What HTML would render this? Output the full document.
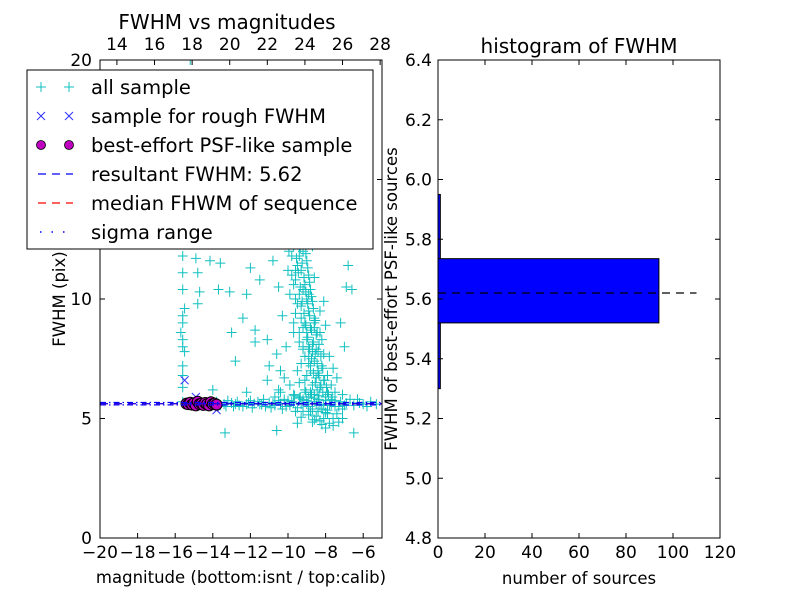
<!DOCTYPE html>
<html><head><meta charset="utf-8"><style>
body{margin:0;background:#fff}
svg{font-family:"DejaVu Sans","Liberation Sans",sans-serif}
</style></head><body>
<svg id="c" width="800" height="600" xmlns="http://www.w3.org/2000/svg"></svg>
<script>
const allSample=[[-14.15,11.6],[-13.6,11.5],[-15.6,11.1],[-14.8,11.1],[-15.6,10.4],[-14.7,10.3],[-13.1,10.3],[-14.8,9.8],[-15.6,9.3],[-15.6,9.0],[-13.0,8.6],[-15.6,8.3],[-15.6,8.0],[-15.6,7.2],[-15.6,6.3],[-12.2,10.2],[-11.75,8.7],[-11.75,8.2],[-11.1,8.3],[-10.6,7.7],[-11.0,7.2],[-11.1,6.6],[-10.5,6.2],[-12.2,6.1],[-7.6,7.1],[-7.4,6.7],[-7.1,6.0],[-6.3,5.8],[-6.8,11.4],[-6.9,10.5],[-8.1,9.9],[-13.35,4.4],[-10.6,4.5],[-9.5,4.8],[-7.1,5.0],[-6.5,4.4],
[-9.9,14.8],[-9.6,14.5],[-9.3,14.2],[-10.2,13.9],[-9.8,13.6],[-9.5,13.3],[-9.1,13.0],[-9.7,12.8],[-10.0,12.5],[-9.4,12.2],[-9.2,12.0],[-9.8,11.8],[-9.0,11.6],[-9.5,11.4],[-9.3,11.2],[-8.9,11.0],[-9.6,10.8],[-9.1,10.6],[-8.8,10.4],[-9.4,10.2],[-9.0,10.0],[-8.7,9.9],[-9.3,9.7],[-8.9,9.5],[-9.6,9.4],[-8.6,9.2],[-9.1,9.0],[-8.8,8.8],[-9.4,8.6],[-8.5,8.5],[-9.0,8.3],[-8.7,8.1],[-9.2,7.9],[-8.4,7.8],[-8.9,7.6],[-8.6,7.4],[-9.3,7.3],[-8.2,7.2],[-8.8,7.0],[-9.0,6.8],[-8.5,6.7],[-8.1,6.6],[-9.4,6.5],[-8.7,6.4],[-8.3,6.3],[-9.1,6.2],[-7.9,6.1],[-8.6,6.0],[-9.7,6.0],[-8.0,5.9],[-8.9,5.9],[-7.7,5.8],[-8.4,5.8],[-9.2,5.8],[-10.0,5.75],[-7.5,5.5],[-8.2,5.4],[-8.8,5.3],[-7.9,5.2],[-8.5,5.1],[-7.6,5.0],[-8.3,4.9],[-7.8,4.8],[-8.0,4.6],[-9.6,5.3],[-10.3,5.4],[-9.9,6.4],[-10.4,7.0],[-10.1,8.0],[-10.3,9.3],[-10.5,10.5],[-10.0,11.2],[-9.2,8.0],[-8.9,7.3],[-8.6,8.8],[-9.5,7.0],[-8.8,6.1],[-9.0,5.6],[-8.4,6.9],[-9.7,8.6],[-10.8,11.6],[-10.6,12.8],[-11.2,12.4],[-9.4,15.5],[-9.8,16.2],[-9.2,17.0],[-10.5,14.4],[-11.0,13.5],[-9.0,14.9],
[-13.4,5.6],[-13.0,5.65],[-12.6,5.55],[-12.2,5.6],[-11.8,5.62],[-11.4,5.58],[-11.0,5.66],[-10.7,5.55],[-10.4,5.62],[-10.1,5.5],[-9.8,5.7],[-9.5,5.45],[-9.2,5.65],[-8.9,5.5],[-8.6,5.7],[-8.3,5.55],[-8.0,5.75],[-7.7,5.6],[-7.3,5.5],[-6.9,5.65],[-6.5,5.55],[-6.0,5.6],[-5.6,5.7],[-5.3,5.6],[-12.9,5.5],[-11.6,5.7],[-10.9,5.45],[-10.2,5.8],[-9.4,5.85],[-8.7,5.4],[-7.9,5.35],[-7.1,5.4],[-6.7,5.8],[-15.2,5.6],[-15.6,5.7],[-14.2,5.5],[-13.8,5.7],
[-15.2,20],[-15.6,6.8],[-15.5,7.8],[-15.7,8.6],[-15.5,9.6],[-15.6,11.8],[-14.9,11.7],[-13.7,10.4],[-12.4,9.2],[-11.5,10.8],[-12.0,11.3],[-14.0,6.2],[-12.8,7.4],[-6.6,10.4],[-7.2,9.0],[-7.0,8.0]];
const denseColumn=[[-9.85,14.1],[-9.55,13.8],[-9.25,13.5],[-9.75,13.2],[-9.45,12.9],[-9.15,12.6],[-9.65,12.4],[-9.35,12.1],[-9.05,11.9],[-9.55,11.7],[-9.25,11.5],[-8.95,11.3],[-9.45,11.1],[-9.15,10.9],[-8.85,10.7],[-9.35,10.5],[-9.05,10.3],[-8.75,10.1],[-9.25,9.9],[-8.95,9.8],[-8.65,9.6],[-9.15,9.4],[-8.85,9.3],[-8.55,9.1],[-9.05,8.9],[-8.75,8.7],[-8.45,8.6],[-8.95,8.4],[-8.65,8.2],[-8.35,8.1],[-8.85,7.9],[-8.55,7.7],[-8.25,7.6],[-8.75,7.5],[-8.45,7.3],[-8.15,7.1],[-8.65,6.9],[-8.35,6.8],[-8.05,6.6],[-8.55,6.5],[-8.25,6.4],[-7.95,6.3],[-8.45,6.2],[-8.15,6.1],[-7.85,6.0],[-8.75,6.0],[-9.05,6.1],[-9.35,5.9],[-9.65,5.95],[-7.65,5.9],[-8.35,5.95],[-8.6,5.85],[-9.8,11.0],[-9.6,10.0],[-9.3,9.2],[-9.0,8.6],[-8.7,7.8],[-8.4,7.0],[-9.1,7.6],[-9.4,8.2],[-9.7,9.0],[-9.9,10.2],[-9.95,12.0],[-10.15,13.0],[-9.9,13.0],[-9.0,12.4],[-9.6,11.2],[-8.9,10.2],[-8.6,9.0],[-8.3,8.6],[-8.1,7.7],[-7.9,6.8],[-7.7,6.4],[-7.5,6.1],[-7.8,5.55],[-7.4,5.2],[-8.1,5.0],[-8.6,4.95],[-8.9,5.15],[-9.2,5.3],[-8.4,5.3],[-8.0,5.25],[-7.6,4.7],[-7.3,4.85],[-8.2,4.75],[-8.7,4.85],[-9.3,5.05],[-7.2,5.7],[-9.1,6.6],[-8.8,7.2],[-8.5,7.9],[-8.2,8.3],[-8.9,8.0],[-9.2,8.8],[-9.5,9.8],[-9.2,10.4],[-9.7,10.6],[-9.4,11.8],[-9.7,12.2],[-9.3,12.7],[-9.6,13.5],[-10.0,13.4],[-9.4,14.6],[-9.7,15.0],[-10.1,14.9],[-9.5,16.0],[-9.1,15.6],[-9.9,15.6],[-9.3,16.5],[-8.9,13.6],[-8.7,12.2],[-8.6,10.9],[-8.3,9.5],[-8.0,8.9],[-7.8,7.6],[-10.4,6.1],[-10.2,6.7],[-10.7,5.9],[-11.3,5.8],[-12.0,5.75],[-12.7,5.7],[-13.2,5.75],[-13.6,5.55],[-12.4,5.5],[-11.9,5.45],[-11.2,5.5],[-10.5,5.75],[-9.9,5.55],[-9.7,5.65],[-9.3,5.6],[-9.0,5.75],[-8.5,5.6],[-8.1,5.6],[-7.5,5.75],[-7.0,5.55],[-6.2,5.65],[-5.8,5.5],[-10.8,5.65],[-11.5,5.6],[-12.1,5.65],[-12.8,5.6],[-13.3,5.5]];
const roughSample=[[-15.5,6.6],[-14.9,5.9],[-14.6,5.7],[-13.9,5.5],[-13.8,5.35],[-15.2,5.7],[-14.2,5.6]];
const bestMag=[-15.4,-15.3,-15.2,-15.1,-15.0,-14.9,-14.8,-14.7,-14.6,-14.5,-14.4,-14.3,-14.2,-14.1,-14.0,-13.9,-13.8];
const bestFwhm=[5.62,5.6,5.66,5.58,5.64,5.55,5.7,5.6,5.62,5.57,5.65,5.6,5.55,5.68,5.6,5.62,5.58];
const resultFwhm=5.62, medianFwhm=5.62, sigmaLo=5.57, sigmaHi=5.67;
const binEdges=[5.30,5.52,5.735,5.95];
const binCounts=[1,94,1];
const leftXTicks=[-20,-18,-16,-14,-12,-10,-8,-6];
const leftYTicks=[0,5,10,15,20];
const topTicks=[14,16,18,20,22,24,26,28];
const rightXTicks=[0,20,40,60,80,100,120];
const rightYTicks=[4.8,5.0,5.2,5.4,5.6,5.8,6.0,6.2,6.4];
const calibOffset=33.1;

const S=document.getElementById('c');const NS='http://www.w3.org/2000/svg';
function mk(t,a,p){const e=document.createElementNS(NS,t);for(const k in a)e.setAttribute(k,a[k]);(p||S).appendChild(e);return e;}
const L={x0:100,x1:382,y0:60,y1:538},R={x0:438,x1:720,y0:60,y1:538};
const lx=v=>L.x0+(v+20)/15*(L.x1-L.x0), ly=v=>L.y1-v/20*(L.y1-L.y0);
const rx=v=>R.x0+v/120*(R.x1-R.x0), ry=v=>R.y1-(v-4.8)/1.6*(R.y1-R.y0);
function txt(x,y,s,a,name){const e=mk('text',Object.assign({x:x,y:y,'font-size':17,fill:'#000'},a||{}));e.textContent=s;return e;}
const defs=mk('defs',{});const cp=mk('clipPath',{id:'lc'},defs);mk('rect',{x:L.x0,y:L.y0,width:L.x1-L.x0,height:L.y1-L.y0},cp);
const gL=mk('g',{'clip-path':'url(#lc)'});

function plus(g,x,y,c){return mk('path',{d:`M${x-5},${y}h10M${x},${y-5}v10`,stroke:c,'stroke-width':1,fill:'none'},g);}
function cross(g,x,y,c){return mk('path',{d:`M${x-4},${y-4}l8,8M${x-4},${y+4}l8,-8`,stroke:c,'stroke-width':1,fill:'none'},g);}
allSample.concat(denseColumn).forEach(p=>{const e=plus(gL,lx(p[0]),ly(p[1]),'#10c0c0');

});
roughSample.forEach(p=>{const e=cross(gL,lx(p[0]),ly(p[1]),'#3030ff');

});
bestMag.forEach((m,i)=>{const e=mk('circle',{cx:lx(m),cy:ly(bestFwhm[i]),r:5.5,fill:'#c000c0',stroke:'#000','stroke-width':1},gL);

});
function hl(v,c,dash,name){const e=mk('line',{x1:L.x0,x2:L.x1,y1:ly(v),y2:ly(v),stroke:c,'stroke-width':1.2,'stroke-dasharray':dash},gL);}
hl(sigmaLo,'#0000ff','6 3 1.5 3','sigma-low-line');hl(sigmaHi,'#0000ff','6 3 1.5 3','sigma-high-line');
hl(medianFwhm,'#ff0000','8 6','median-fwhm-line');
hl(resultFwhm,'#0000ff','8 6','resultant-fwhm-line');
let e=mk('rect',{x:L.x0,y:L.y0,width:L.x1-L.x0,height:L.y1-L.y0,fill:'none',stroke:'#000','stroke-width':1});
leftXTicks.forEach(v=>{const x=lx(v);mk('path',{d:`M${x},${L.y1}v-5`,stroke:'#000'});txt(x,558,'\u2212'+Math.abs(v),{'text-anchor':'middle'},'x-tick-label');});
leftYTicks.forEach(v=>{const y=ly(v);mk('path',{d:`M${L.x0},${y}h5M${L.x1},${y}h-5`,stroke:'#000'});txt(L.x0-8,y+6,String(v),{'text-anchor':'end'},'y-tick-label');});
topTicks.forEach(v=>{const x=lx(v-calibOffset);mk('path',{d:`M${x},${L.y0}v5`,stroke:'#000'});txt(x,50,String(v),{'text-anchor':'middle'},'top-tick-label');});
txt(241,583,'magnitude (bottom:isnt / top:calib)',{'text-anchor':'middle','font-size':16.5},'x-axis-title');
txt(0,0,'FWHM (pix)',{'text-anchor':'middle',transform:'translate(65,299) rotate(-90)','font-size':16.5},'y-axis-title');
txt(227,29,'FWHM vs magnitudes',{'text-anchor':'middle','font-size':20},'left-chart-title');
const lg=mk('g',{});
mk('rect',{x:27,y:70,width:346,height:179,fill:'#fff',stroke:'#000','stroke-width':1},lg);
const labels=['all sample','sample for rough FWHM','best-effort PSF-like sample','resultant FWHM: 5.62','median FHWM of sequence','sigma range'];
labels.forEach((s,i)=>{const y=87+i*29;
if(i==0){plus(lg,41,y,'#10c0c0');plus(lg,69,y,'#10c0c0');}
if(i==1){cross(lg,41,y,'#3030ff');cross(lg,69,y,'#3030ff');}
if(i==2){mk('circle',{cx:41,cy:y,r:4.5,fill:'#c000c0',stroke:'#000','stroke-width':0.8},lg);mk('circle',{cx:69,cy:y,r:4.5,fill:'#c000c0',stroke:'#000','stroke-width':0.8},lg);}
if(i==3)mk('line',{x1:38,x2:73,y1:y,y2:y,stroke:'#0000ff','stroke-dasharray':'8 6','stroke-width':1.2},lg);
if(i==4)mk('line',{x1:38,x2:73,y1:y,y2:y,stroke:'#ff0000','stroke-dasharray':'8 6','stroke-width':1.2},lg);
if(i==5)mk('line',{x1:40,x2:73,y1:y,y2:y,stroke:'#0000ff','stroke-dasharray':'1.5 10','stroke-width':1.5},lg);
const t=mk('text',{x:91,y:y+7,'font-size':19.5},lg);t.textContent=s;});
binCounts.forEach((c,i)=>{const y0=ry(binEdges[i+1]),y1=ry(binEdges[i]);const b=mk('rect',{x:rx(0),y:y0,width:rx(c)-rx(0),height:y1-y0,fill:'#0000ff',stroke:'#000','stroke-width':1});

});
e=mk('line',{x1:rx(0),x2:rx(110),y1:ry(resultFwhm),y2:ry(resultFwhm),stroke:'#000','stroke-width':1.2,'stroke-dasharray':'8 6'});
e=mk('rect',{x:R.x0,y:R.y0,width:R.x1-R.x0,height:R.y1-R.y0,fill:'none',stroke:'#000','stroke-width':1});
rightXTicks.forEach(v=>{const x=rx(v);mk('path',{d:`M${x},${R.y1}v-5M${x},${R.y0}v5`,stroke:'#000'});txt(x,558,String(v),{'text-anchor':'middle'},'hist-x-tick-label');});
rightYTicks.forEach(v=>{const y=ry(v);mk('path',{d:`M${R.x0},${y}h5M${R.x1},${y}h-5`,stroke:'#000'});txt(R.x0-6,y+6,v.toFixed(1),{'text-anchor':'end'},'hist-y-tick-label');});
txt(579,584,'number of sources',{'text-anchor':'middle','font-size':16.5},'hist-x-axis-title');
txt(0,0,'FWHM of best-effort PSF-like sources',{'text-anchor':'middle',transform:'translate(397,299) rotate(-90)','font-size':16.5},'hist-y-axis-title');
txt(579,53,'histogram of FWHM',{'text-anchor':'middle','font-size':20},'hist-chart-title');
</script>
</body></html>
